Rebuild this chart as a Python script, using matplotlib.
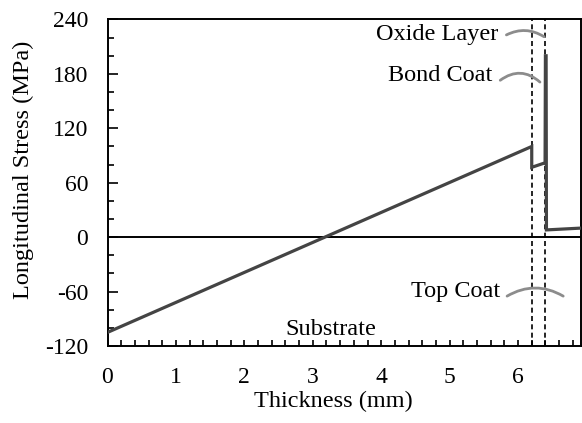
import matplotlib
matplotlib.use("Agg")
import matplotlib.pyplot as plt
from matplotlib.ticker import MultipleLocator

# longitudinal stress through the coating system
thickness = [0.0, 6.2, 6.2, 6.395, 6.40, 6.41, 6.415, 6.92]
stress = [-105, 100, 77, 82, 200, 200, 8, 10]

# interface positions (mm)
interfaces = [6.2, 6.4]

# layer labels: text, text anchor (x, y), arc start, arc end, arc bend
layer_labels = ["Oxide Layer", "Bond Coat", "Top Coat", "Substrate"]
label_pos = [(5.71, 223), (5.63, 178), (5.74, -60), (3.27, -102)]
arc_start = [(5.83, 223), (5.74, 173), (5.84, -65), None]
arc_end = [(6.38, 221), (6.32, 171), (6.66, -65), None]
arc_rad = [-0.28, -0.40, -0.29, 0]

plt.rcParams['font.family'] = ['Liberation Serif', 'DejaVu Serif']
plt.rcParams['font.size'] = 17.5
plt.rcParams['axes.unicode_minus'] = False

fig = plt.figure(figsize=(5.82, 4.23), dpi=100)
ax = fig.add_axes([107.5 / 582, 77 / 423, 473.5 / 582, 326.5 / 423])

ax.plot(thickness, stress, color='#444444', lw=2.3, zorder=3, solid_joinstyle='miter')
ax.axhline(0, color='black', lw=1.4, zorder=2)
for xi in interfaces:
    ax.axvline(xi, color='black', lw=1.2, ls=(0, (3, 2)), zorder=2)

for i, txt in enumerate(layer_labels):
    ha = 'center' if arc_start[i] is None else 'right'
    ax.text(label_pos[i][0], label_pos[i][1], txt, ha=ha, va='center')
    if arc_start[i] is not None:
        ax.annotate("", xy=arc_end[i], xytext=arc_start[i],
                    arrowprops=dict(arrowstyle='-', color='#8c8c8c', lw=2,
                                    shrinkA=0, shrinkB=0,
                                    connectionstyle='arc3,rad=%s' % arc_rad[i]))

ax.set_xlim(0, 6.92)
ax.set_ylim(-120, 240)
ax.xaxis.set_major_locator(MultipleLocator(1))
ax.xaxis.set_minor_locator(MultipleLocator(0.2))
ax.yaxis.set_major_locator(MultipleLocator(60))
ax.yaxis.set_minor_locator(MultipleLocator(20))
ax.tick_params(which='both', direction='in', width=1.2, top=False, right=False)
ax.tick_params(axis='x', which='both', length=4, pad=15, labelsize=17)
ax.tick_params(axis='y', which='major', length=7, pad=14, labelsize=17)
ax.tick_params(axis='y', which='minor', length=4)
for sp in ax.spines.values():
    sp.set_linewidth(1.4)

ax.set_xlabel("Thickness (mm)")
ax.set_ylabel("Longitudinal Stress (MPa)")
ax.xaxis.set_label_coords(0.476, -0.171)
ax.yaxis.set_label_coords(-0.178, 0.539)
ax.xaxis.label.set_va('center')
ax.yaxis.label.set_va('center')

fig.savefig("out.png", dpi=100)
